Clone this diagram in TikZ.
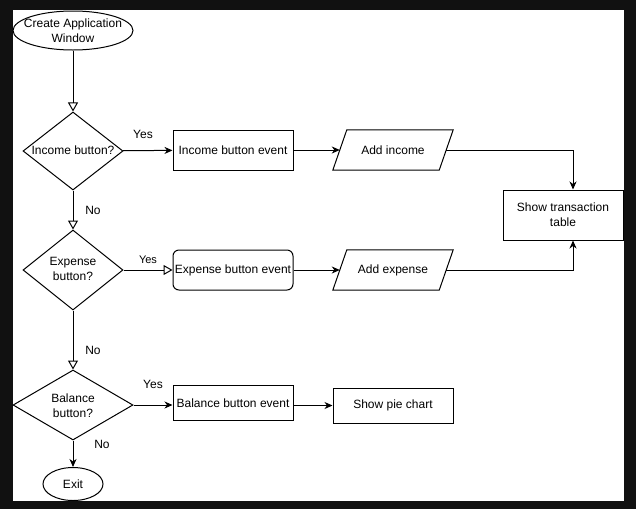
\documentclass[tikz,border=0pt]{standalone}
\usepackage{fontspec}
\setmainfont{Liberation Sans}
\usetikzlibrary{shapes.geometric,arrows.meta}
\definecolor{frame}{HTML}{111111}
\begin{document}
\begin{tikzpicture}[x=1pt,y=-1pt,
  base/.style={draw=black,line width=1pt,fill=white,inner sep=0pt,font=\fontsize{12}{15}\selectfont,align=center},
  proc/.style={base,rectangle,minimum width=120pt,minimum height=40pt},
  rproc/.style={proc,rounded corners=6pt},
  io/.style={rectangle,inner sep=0pt,font=\fontsize{12}{15}\selectfont,align=center,minimum width=120pt,minimum height=40pt},
  para/.style={draw=black,line width=1pt,fill=white},
  dia/.style={base,diamond,aspect=1},
  oval/.style={base,ellipse},
  ctext/.style={font=\fontsize{12}{15}\selectfont,align=center,inner sep=0pt},
  lbl/.style={font=\fontsize{12}{14}\selectfont,inner sep=0pt},
  conn/.style={draw=black,line width=1pt,-{Stealth[length=8pt,width=7pt,inset=2.5pt]}},
  oconn/.style={draw=black,line width=1pt,-{Triangle[open,length=9pt,width=10pt]}}]
\fill[frame] (0,0) rectangle (636,509);
\fill[white] (13,10) rectangle (624,501);

\node[oval,minimum width=120pt,minimum height=39pt] (start) at (73,30.5) {};
\node[ctext] (starttxt) at (73,31) {Create Application\\Window};

\node[dia,minimum width=100pt,minimum height=78pt] (d1) at (73,151) {};
\node[ctext] (d1t) at (73,150) {Income button?};
\node[dia,minimum width=100pt,minimum height=80pt] (d2) at (73,270) {};
\node[ctext] (d2t) at (73,269) {Expense\\button?};
\node[dia,minimum width=120pt,minimum height=70pt] (d3) at (73,405) {};
\node[ctext] (d3t) at (73,406) {Balance\\button?};

\node[oval,minimum width=60pt,minimum height=33pt] (exit) at (73,484) {Exit};

\node[proc] (inc) at (233,150) {Income button event};
\node[io] (addinc) at (393,150) {};
\draw[para] ([xshift=14pt]addinc.north west) -- (addinc.north east) -- ([xshift=-14pt]addinc.south east) -- (addinc.south west) -- cycle;
\node[ctext] (addinct) at (addinc) {Add income};
\node[rproc] (exp) at (233,270) {Expense button event};
\node[io] (addexp) at (393,270) {};
\draw[para] ([xshift=14pt]addexp.north west) -- (addexp.north east) -- ([xshift=-14pt]addexp.south east) -- (addexp.south west) -- cycle;
\node[ctext] (addexpt) at (addexp) {Add expense};
\node[proc,minimum height=35pt] (bal) at (233,403) {Balance button event};
\node[proc,minimum height=35pt] (pie) at (393,405.5) {Show pie chart};
\node[proc,minimum height=50pt] (tab) at (563,215) {Show transaction\\table};

\draw[oconn] (start) -- (d1);
\draw[oconn] (d1) -- (d2);
\draw[oconn] (d2) -- (d3);
\draw[conn] (d3) -- (exit);

\draw[conn] (d1) -- (inc);
\draw[oconn] (d2) -- (exp);
\draw[conn] (d3.east) -- (bal.west |- d3.east);

\draw[conn] (inc) -- ([xshift=7pt]addinc.west);
\draw[conn] (exp) -- ([xshift=7pt]addexp.west);
\draw[conn] (bal.east |- pie.west) -- (pie.west);

\coordinate (tabtop) at ([xshift=10pt]tab.north);
\coordinate (tabbot) at ([xshift=10pt]tab.south);
\draw[conn] ([xshift=-7pt]addinc.east) -| (tabtop);
\draw[conn] ([xshift=-7pt]addexp.east) -| (tabbot);

\node[lbl] (y1) at (143,134) {Yes};
\node[lbl,font=\fontsize{11}{13}\selectfont] (y2) at (148,260) {Yes};
\node[lbl] (y3) at (153,384) {Yes};
\node[lbl] (n1) at (93,210) {No};
\node[lbl] (n2) at (93,350) {No};
\node[lbl] (n3) at (102,444) {No};
\end{tikzpicture}
\end{document}
